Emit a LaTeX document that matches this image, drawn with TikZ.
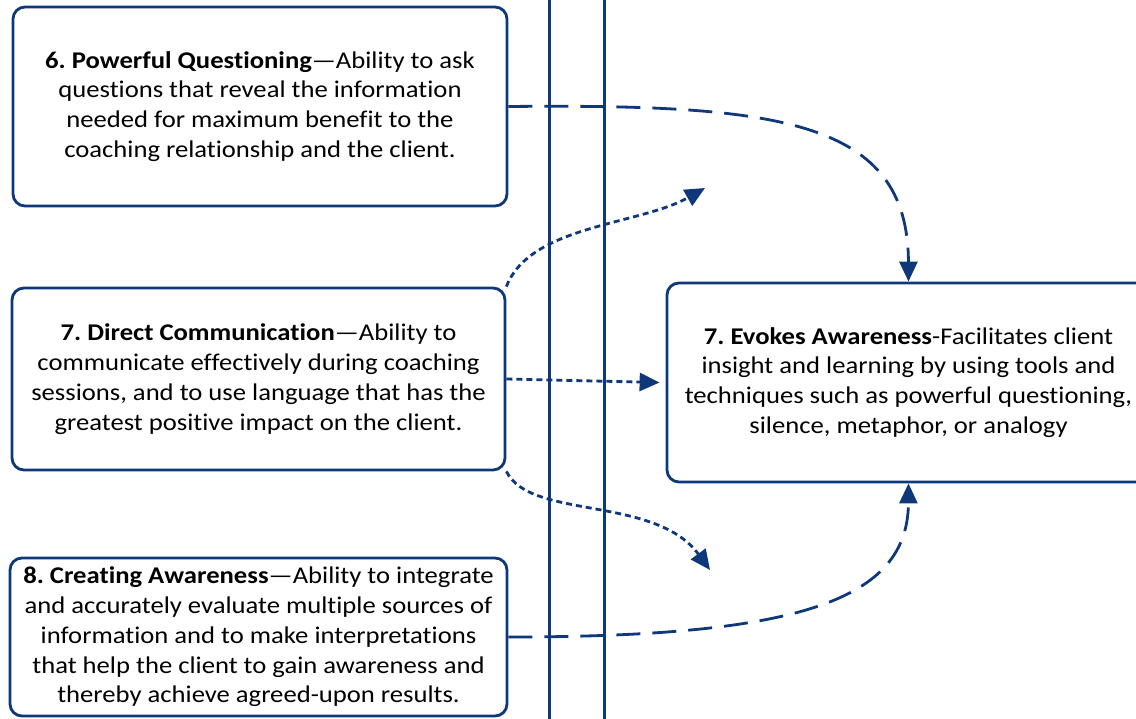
\documentclass[tikz,border=0pt]{standalone}
\usepackage{fontspec}
\setmainfont{Carlito}[FakeStretch=1.11,Ligatures=NoCommon]
\usetikzlibrary{arrows.meta}
\definecolor{navy}{RGB}{14,56,122}
\frenchspacing
\begin{document}
\begin{tikzpicture}[x=1pt,y=-1pt,
  box/.style={draw=navy, line width=2.8pt, rounded corners=12pt, align=center,
    font=\fontsize{24}{29.8}\selectfont, text=black, inner sep=0pt},
  vline/.style={draw=navy, line width=3pt},
  longdash/.style={draw=navy, line width=2.8pt, dash pattern=on 24pt off 12pt,
    -{Triangle[length=20pt,width=18pt]}},
  shortdot/.style={draw=navy, line width=2.8pt, dash pattern=on 6pt off 4pt,
    -{Triangle[length=20pt,width=18pt]}}]
\useasboundingbox (0,0) rectangle (1136,719);
\clip (0,0) rectangle (1136,719);
% vertical lines
\coordinate (v1t) at (549,0); \coordinate (v1b) at (549,719);
\coordinate (v2t) at (604,0); \coordinate (v2b) at (604,719);
\draw[vline] (v1t) -- (v1b);
\draw[vline] (v2t) -- (v2b);
% boxes
\node[box, fill=white, minimum width=494pt, minimum height=199pt] (b1) at (260,106.5)
  {\textbf{6. Powerful Questioning}—Ability to ask\\questions that reveal the information\\needed for maximum benefit to the\\coaching relationship and the client.};
\node[box, fill=white, minimum width=493pt, minimum height=182pt] (b2) at (258.5,379)
  {\textbf{7. Direct Communication}—Ability to\\communicate effectively during coaching\\sessions, and to use language that has the\\greatest positive impact on the client.};
\node[box, fill=white, minimum width=497pt, minimum height=158pt] (b3) at (258.5,637)
  {\textbf{8. Creating Awareness}—Ability to integrate\\and accurately evaluate multiple sources of\\information and to make interpretations\\that help the client to gain awareness and\\thereby achieve agreed-upon results.};
\node[box, fill=white, minimum width=483pt, minimum height=199pt] (b4) at (908.5,382.5)
  {\textbf{7. Evokes Awareness}-Facilitates client\\insight and learning by using tools and\\techniques such as powerful questioning,\\silence, metaphor, or analogy};
% connector ends
\coordinate (up) at (705,188);
\coordinate (down) at (710,570);
% connectors
\draw[longdash] (b1.east) .. controls (780,104) and (908,120) .. (b4.north);
\draw[longdash] (b3.east) .. controls (800,637) and (908,600) .. (b4.south);
\draw[shortdot] (b2.north east) .. controls (530,225) and (640,225) .. (up);
\draw[shortdot] (b2.east) -- ([xshift=-6pt]b4.west);
\draw[shortdot] (b2.south east) .. controls (530,520) and (655,495) .. (down);
\end{tikzpicture}
\end{document}
